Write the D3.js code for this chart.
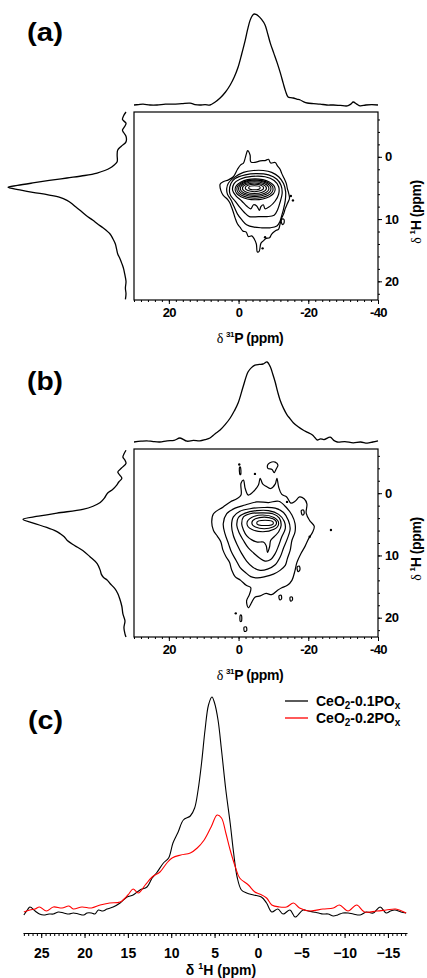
<!DOCTYPE html>
<html lang="en">
<head>
<meta charset="utf-8">
<title>31P-1H HETCOR and 1H spectra</title>
<style>
  body { margin: 0; padding: 0; background: #fff; }
  svg { display: block; }
  .ax .tick text { font-family: "Liberation Sans", Arial, sans-serif; font-weight: bold; font-size: 13px; letter-spacing: -0.6px; fill: #000; }
  .axc .tick text { font-family: "Liberation Sans", Arial, sans-serif; font-weight: bold; font-size: 14px; fill: #000; }
  .tick line { stroke: #000; }
  .axlab { font-family: "Liberation Sans", Arial, sans-serif; font-weight: bold; font-size: 14px; letter-spacing: -0.4px; }
  .delta { font-family: "Liberation Serif", "Times New Roman", serif; font-weight: normal; }
  .sup { font-size: 8px; }
  .plabel { font-family: "Liberation Sans", Arial, sans-serif; font-weight: bold; font-size: 25px; }
  .legend { font-family: "Liberation Sans", Arial, sans-serif; font-weight: bold; font-size: 14px; }
</style>
</head>
<body>
<script src="https://cdn.jsdelivr.net/npm/d3@7"></script>
<script>
// ---------- tick labels ----------
var pTicks = [20, 0, -20, -40];
var hTicks = [0, 10, 20];
var cTicks = [25, 20, 15, 10, 5, 0, -5, -10, -15];

// ---------- panel (a) : projections [ppm, intensity] ----------
var aTopProj = [[30.0,0],[28.7,0.5],[27.4,1],[25.4,0],[23.4,0],[21.0,1],[18.8,1],[16.3,1.5],[13.9,2],[12.5,0.5],[11.1,0],[9.6,0.5],[8.2,0],[6.8,3],[5.3,7.7],[3.8,14],[2.4,22],[1.2,31],[0.1,42],[-0.9,56],[-1.9,71],[-2.6,83],[-3.3,93],[-4.0,98.5],[-4.5,100],[-5.0,99.5],[-5.6,98],[-6.6,94],[-7.6,88],[-8.3,79],[-9.1,68],[-10.1,57],[-11.1,46],[-12.0,35],[-12.8,24],[-13.5,15],[-14.2,8.8],[-15.0,8],[-15.7,7.7],[-16.7,6.5],[-17.7,5.5],[-18.7,3.5],[-19.7,2.2],[-21.5,1.5],[-23.4,1],[-25.3,0],[-27.2,0],[-29.2,-0.5],[-31.2,-1],[-32.2,1],[-32.9,3.3],[-33.9,1],[-34.9,-1],[-36.5,0],[-38.2,0.5],[-40.0,0]];
var aSideProj = [[-7.2,0],[-6.6,2],[-6.0,3],[-5.4,0],[-4.9,1],[-4.3,3],[-3.9,2],[-3.3,0],[-2.4,0],[-1.7,4],[-1.1,7],[-0.3,7.5],[0.8,7.5],[1.3,10],[1.8,13.5],[2.2,18],[2.6,24.5],[3.0,35],[3.4,50],[3.8,65],[4.2,79],[4.6,92],[4.9,100],[5.3,90],[5.7,79],[6.1,66],[6.5,56],[7.0,50],[7.5,46],[8.0,43],[8.6,39],[9.4,34],[10.2,28],[10.8,24],[11.4,19.5],[12.4,13.5],[13.2,11],[14.0,9],[14.8,8],[15.6,7],[16.4,5],[17.2,3.4],[18.0,2],[18.9,1],[20.0,0],[21.1,0.5],[22.0,0],[22.9,0.5]];

// panel (a) contours [P ppm, H ppm]
var aLevel1 = [[-2.6,-1.0],[-3.3,-0.3],[-3.5,0.8],[-4.7,0.9],[-6.2,0.65],[-7.6,0.6],[-8.6,0.4],[-9.2,1.0],[-10.5,0.9],[-11.2,1.5],[-11.9,2.0],[-12.4,2.7],[-13.1,3.5],[-13.7,4.3],[-14.0,5.1],[-14.4,5.9],[-14.6,6.7],[-14.0,7.5],[-13.4,8.3],[-12.9,9.2],[-12.4,9.8],[-11.9,10.8],[-11.5,11.6],[-10.5,11.9],[-9.5,12.4],[-8.9,13.0],[-7.9,13.1],[-7.1,13.5],[-6.4,13.9],[-5.9,15.2],[-5.4,15.3],[-5.1,14.0],[-4.5,13.2],[-3.8,12.7],[-2.8,12.8],[-2.2,12.1],[-1.2,11.9],[-0.4,11.3],[0.3,10.8],[1.0,9.8],[1.5,8.9],[2.0,8.1],[2.6,7.3],[3.4,6.7],[4.4,6.2],[5.1,5.4],[5.3,4.4],[4.4,4.0],[2.9,3.7],[1.5,3.2],[0.3,2.0],[-0.6,1.3],[-1.4,1.0],[-1.9,0.2],[-2.3,-0.6]];
var aLevel2 = [[3.4,5.1],[2.9,4.2],[1.2,3.3],[-1.4,2.5],[-4.3,2.2],[-7.1,2.2],[-9.5,2.5],[-11.5,3.2],[-12.9,4.3],[-13.5,5.6],[-13.4,7.0],[-12.9,8.4],[-12.4,9.4],[-11.9,10.35],[-11.0,11.1],[-9.1,11.4],[-6.7,11.4],[-4.5,11.3],[-2.3,10.9],[-0.9,10.1],[0.3,9.2],[1.3,8.0],[2.2,6.9],[3.2,6.0]];
var aLevel3 = [[2.6,5.6],[2.2,4.3],[1.0,3.5],[-1.9,2.9],[-5.2,2.7],[-8.6,2.9],[-11.0,3.6],[-12.2,4.6],[-12.5,5.9],[-11.9,7.3],[-11.2,8.5],[-10.2,9.4],[-8.1,9.6],[-5.7,9.6],[-3.1,9.6],[-1.6,8.9],[-0.2,8.0],[1.0,7.1],[2.2,6.3]];
var aLevel4 = [[1.7,5.4],[1.3,4.3],[-0.4,3.6],[-3.8,3.15],[-7.6,3.2],[-10.2,3.8],[-11.5,4.8],[-11.5,6.0],[-10.5,7.1],[-8.9,8.0],[-7.6,8.35],[-7.1,7.7],[-6.4,8.0],[-6.0,8.6],[-5.2,7.9],[-4.3,7.7],[-3.5,8.35],[-2.3,7.9],[-0.9,7.1],[0.7,6.3]];
var aLoop = [[-12.3,10.1],[-12.9,10.0],[-13.1,10.5],[-12.7,10.9],[-12.3,10.6]];
// inner rings [P left, P right, H top, H bottom]
var aRings = [[-2.9,-6.2,4.65,5.3],[-1.9,-7.2,4.4,5.6],[-1.1,-8.0,4.2,5.9],[-0.5,-8.7,4.0,6.15],[0.0,-9.3,3.85,6.4],[0.5,-9.9,3.7,6.65],[1.0,-10.5,3.55,6.9]];
var aDots = [[-15.0,6.3],[-15.6,7.0],[-7.6,12.9],[-6.9,14.7]];

// ---------- panel (b) ----------
var bTopProj = [[30.0,0],[28.0,1],[26.3,1.5],[24.5,0.5],[22.6,0],[20.5,1.5],[18.5,2],[16.8,5],[14.8,1],[13.0,2],[11.1,1.5],[9.6,3],[8.2,5],[6.8,10],[5.3,15],[3.8,22],[2.4,30],[1.2,39],[0.1,49],[-1.3,69],[-2.7,87.5],[-3.7,93],[-4.7,96],[-5.9,97],[-7.0,97.5],[-8.2,100],[-9.1,94],[-9.8,85],[-10.5,75],[-11.2,63],[-11.9,52.5],[-12.9,42],[-13.9,34],[-14.8,29],[-15.7,24],[-17.1,19],[-18.5,15],[-19.8,12],[-21.1,9],[-22.0,5],[-22.6,2.5],[-23.5,4],[-24.5,3],[-26.3,6],[-27.3,2],[-28.3,0],[-30.5,0.5],[-32.9,-1],[-35.0,0],[-36.9,-1.5],[-38.5,0],[-40.0,1.5]];
var bSideProj = [[-6.9,0],[-6.3,2],[-5.8,3],[-5.3,1],[-4.8,0],[-4.1,4],[-3.4,8],[-2.9,6],[-2.4,4],[-1.8,7],[-1.3,9],[-0.6,13],[0,18],[0.8,21],[1.5,25],[2.1,32],[2.6,42],[3.2,67],[3.7,85],[4.2,100],[4.8,90],[5.5,77],[6.1,68],[6.5,64],[7.0,60],[7.6,57],[8.4,50],[9.2,42],[10.2,35],[11.3,28],[12.4,25],[13.0,24],[13.5,22],[14.0,18],[14.5,15.5],[15.3,11],[16.1,8],[17.0,6],[18.2,4],[19.4,3],[20.5,1],[21.6,2],[22.6,1],[23.1,0]];

var bLevel1 = [[7.7,4.6],[7.2,3.3],[4.4,2.2],[2.4,1.4],[0.5,0.9],[-0.7,0.3],[-0.7,-1.6],[-1.4,-2.1],[-1.9,-0.75],[-2.8,0.3],[-4.5,-0.4],[-5.7,-1.3],[-6.2,-2.4],[-6.9,-1.5],[-7.9,-1.1],[-9.2,-0.75],[-10.5,-1.45],[-11.0,-2.4],[-11.5,-1.0],[-12.4,0.2],[-13.8,0.6],[-15.0,1.6],[-16.2,1.3],[-17.5,0.6],[-18.8,0.9],[-19.6,1.7],[-19.4,3.2],[-20.4,4.4],[-21.7,5.3],[-21.3,6.2],[-20.1,7.3],[-19.1,8.5],[-17.9,9.7],[-16.7,11.2],[-16.2,12.4],[-15.3,14.0],[-14.0,14.8],[-12.4,15.2],[-11.2,15.6],[-9.5,16.3],[-7.9,16.1],[-6.2,16.5],[-4.7,16.7],[-3.8,17.5],[-2.8,18.4],[-2.3,17.3],[-3.1,16.3],[-3.5,15.2],[-2.2,14.8],[-0.6,14.0],[1.0,13.4],[2.0,12.3],[2.6,11.1],[3.6,10.2],[4.5,9.1],[5.1,7.8],[6.1,6.9],[7.2,6.0]];
var bLevel2 = [[4.4,4.9],[3.4,3.3],[1.0,2.4],[-1.9,1.9],[-5.2,1.4],[-8.6,1.5],[-11.5,1.3],[-13.7,2.3],[-15.3,3.5],[-16.2,4.9],[-16.2,6.2],[-15.3,7.6],[-14.8,9.2],[-14.0,10.5],[-13.4,11.6],[-11.9,12.4],[-10.0,13.0],[-7.6,13.4],[-5.4,13.6],[-3.5,13.4],[-1.9,12.7],[-0.4,11.9],[0.7,10.8],[2.0,9.5],[2.9,8.1],[3.9,6.5]];
var bLevel3 = [[2.0,5.2],[1.5,3.8],[-0.4,2.9],[-3.3,2.5],[-7.1,2.3],[-10.5,2.4],[-12.9,3.1],[-14.3,4.4],[-14.8,5.7],[-14.0,7.3],[-12.9,8.8],[-11.9,10.3],[-10.5,11.5],[-8.3,12.2],[-6.2,12.4],[-4.1,11.9],[-2.3,10.9],[-0.9,9.7],[0.3,8.4],[1.5,6.8]];
var bLevel4 = [[0.5,5.2],[0.05,3.9],[-1.9,3.2],[-5.2,2.8],[-8.6,2.8],[-11.5,3.4],[-13.1,4.5],[-13.4,5.7],[-12.4,7.0],[-11.5,8.4],[-10.5,9.7],[-9.1,10.7],[-7.6,10.9],[-6.0,10.4],[-4.3,9.6],[-2.8,8.8],[-1.4,7.6],[-0.2,6.4]];
var bLevel5 = [[-0.9,4.9],[-1.4,3.8],[-3.3,3.3],[-6.7,3.15],[-9.8,3.3],[-11.7,4.0],[-12.2,5.2],[-11.5,6.2],[-10.2,7.0],[-9.2,7.6],[-8.9,8.6],[-8.3,9.5],[-7.9,8.4],[-7.1,7.85],[-5.4,7.85],[-3.8,7.5],[-2.3,6.8],[-1.4,5.9]];
var bIslands = [
  [[-8.3,-4.5],[-9.0,-4.9],[-10.5,-5.0],[-11.3,-4.5],[-10.8,-3.9],[-10.2,-3.3],[-9.6,-3.8],[-8.4,-4.0]],
  [[-18.0,2.8],[-18.6,2.7],[-18.8,3.3],[-18.3,3.5]],
  [[-16.8,11.9],[-17.4,11.7],[-17.6,12.3],[-17.1,12.6]],
  [[-11.6,16.5],[-12.2,16.4],[-12.3,17.0],[-11.8,17.1]],
  [[-14.8,16.7],[-15.4,16.7],[-15.4,17.2],[-14.9,17.3]],
  [[-1.6,21.5],[-2.2,21.5],[-2.3,22.1],[-1.7,22.2]],
  [[-0.3,-4.2],[-0.5,-4.2],[-0.6,-3.0],[-0.4,-3.0]],
  [[-0.5,19.6],[-0.8,19.6],[-0.8,20.6],[-0.5,20.6]]
];
var bRings = [[-5.2,-10.0,4.35,5.2],[-3.8,-10.9,3.85,5.7],[-2.4,-11.5,3.5,6.2]];
var bDots = [[-4.7,-3.1],[-13.9,1.4],[-20.4,7.0],[-26.5,5.9],[0.8,19.3],[-0.2,-4.6]];

// ---------- panel (c) : 1H spectra [ppm, intensity] ----------
var seriesNames = ["CeO2-0.1POx", "CeO2-0.2POx"];
var cBlack = [[27.0,0],[26.6,5],[26.3,8],[25.7,4],[25.2,1],[24.7,0],[24.1,1],[23.6,1],[23.0,3],[22.4,2],[21.8,1],[21.3,2],[20.7,1],[20.1,0],[19.7,2],[19.2,2],[18.8,1],[18.4,5],[17.9,4],[17.4,6],[16.7,8],[15.9,12],[15.1,18],[14.4,20],[13.6,25],[12.8,28],[12.2,37],[11.7,42],[10.9,52],[10.3,57],[9.8,72],[9.2,83],[8.6,95],[7.8,99],[7.3,107],[6.9,125],[6.5,152],[6.1,185],[5.7,210],[5.3,218],[5.0,212],[4.6,195],[4.2,165],[3.7,125],[3.2,92],[2.8,62],[2.4,38],[1.9,25],[1.3,22],[0.5,20],[-0.4,18],[-1.0,12],[-1.6,3],[-2.3,6],[-2.9,1],[-3.7,5],[-4.3,-2],[-5.2,5],[-5.8,4],[-6.4,3],[-7.0,2],[-7.5,1],[-8.1,1],[-8.7,-1],[-9.2,0],[-9.8,2],[-10.4,2],[-11.0,1],[-11.8,0],[-12.5,3],[-13.3,2],[-14.1,8],[-14.8,2],[-15.3,4],[-15.8,5],[-16.5,3],[-17.1,2]];
var cRed = [[27.0,3],[26.3,5],[25.7,6],[25.2,8],[24.4,4],[23.6,8],[22.6,7],[21.8,9],[21.3,6],[20.3,8],[19.2,7],[18.2,10],[17.1,12],[15.9,13],[15.0,20],[14.4,26],[13.8,22],[13.0,30],[12.2,38],[11.3,43],[10.5,52],[9.9,57],[8.9,60],[7.8,62],[7.0,67],[6.2,75],[5.4,88],[4.7,100],[4.2,97],[3.7,82],[3.2,65],[2.6,48],[2.1,37],[1.1,30],[0.35,23],[-0.2,21],[-1.0,17],[-1.6,10],[-2.5,8],[-3.3,8],[-4.1,12],[-4.8,7],[-6.0,4],[-7.5,6],[-8.7,7],[-9.4,10],[-10.4,4],[-11.4,10],[-12.3,3],[-13.7,4],[-14.8,5],[-15.9,6],[-17.1,2]];

// ---------- drawing ----------
var svg = d3.select("body").append("svg")
  .attr("width", 427)
  .attr("height", 978);

function drawHetcor(p) {
  var g = svg.append("g");
  var x = d3.scaleLinear().domain([30, -40]).range([p.left, p.right]);
  var y = d3.scaleLinear().domain(p.hDomain).range([p.top, p.bottom]);
  var topI = d3.scaleLinear().domain([0, 100]).range([p.topBase, p.topPeak]);
  var sideI = d3.scaleLinear().domain([0, 100]).range([p.sideBase, p.sidePeak]);

  // projections
  g.append("path").datum(p.topProj)
    .attr("d", d3.line().x(d => x(d[0])).y(d => topI(d[1])).curve(d3.curveCatmullRom))
    .attr("fill", "none").attr("stroke", "#000").attr("stroke-width", 1.3);
  g.append("path").datum(p.sideProj)
    .attr("d", d3.line().x(d => sideI(d[1])).y(d => y(d[0])).curve(d3.curveCatmullRom))
    .attr("fill", "none").attr("stroke", "#000").attr("stroke-width", 1.3);

  // contour lines
  var cl = d3.line().x(d => x(d[0])).y(d => y(d[1])).curve(d3.curveCatmullRomClosed);
  g.selectAll(null).data(p.contours).join("path")
    .attr("d", cl)
    .attr("fill", "none").attr("stroke", "#000").attr("stroke-width", 1.2);
  g.selectAll(null).data(p.rings).join("ellipse")
    .attr("cx", d => (x(d[0]) + x(d[1])) / 2)
    .attr("rx", d => Math.abs(x(d[1]) - x(d[0])) / 2)
    .attr("cy", d => (y(d[2]) + y(d[3])) / 2)
    .attr("ry", d => Math.abs(y(d[3]) - y(d[2])) / 2)
    .attr("fill", "none").attr("stroke", "#000").attr("stroke-width", 1.1);
  g.selectAll(null).data(p.dots).join("circle")
    .attr("cx", d => x(d[0])).attr("cy", d => y(d[1])).attr("r", 1.2)
    .attr("fill", "#000");

  // frame
  g.append("rect")
    .attr("x", p.left).attr("y", p.top)
    .attr("width", p.right - p.left).attr("height", p.bottom - p.top)
    .attr("fill", "none").attr("stroke", "#000").attr("stroke-width", 1.2);

  // bottom axis (31P)
  g.append("g").attr("class", "ax").attr("transform", "translate(0," + p.bottom + ")")
    .call(d3.axisBottom(x).tickValues(d3.range(30, -41, -2)).tickSize(2).tickFormat(""))
    .call(a => a.select(".domain").remove());
  g.append("g").attr("class", "ax").attr("transform", "translate(0," + p.bottom + ")")
    .call(d3.axisBottom(x).tickValues(pTicks).tickSize(4).tickPadding(4).tickFormat(d => String(d)))
    .call(a => a.select(".domain").remove());

  // right axis (1H)
  g.append("g").attr("class", "ax").attr("transform", "translate(" + p.right + ",0)")
    .call(d3.axisRight(y).tickValues(d3.range(-6, 23, 2)).tickSize(2).tickFormat(""))
    .call(a => a.select(".domain").remove());
  g.append("g").attr("class", "ax").attr("transform", "translate(" + p.right + ",0)")
    .call(d3.axisRight(y).tickValues(hTicks).tickSize(4).tickPadding(3).tickFormat(d => String(d)))
    .call(a => a.select(".domain").remove());

  // axis titles
  var lx = g.append("text").attr("class", "axlab")
    .attr("x", 250).attr("y", p.bottom + 43).attr("text-anchor", "middle");
  lx.append("tspan").attr("class", "delta").text("δ ");
  lx.append("tspan").attr("class", "sup").attr("dy", -6).text("31");
  lx.append("tspan").attr("dy", 6).text("P (ppm)");

  var ly = g.append("text").attr("class", "axlab")
    .attr("transform", "translate(421," + ((p.top + p.bottom) / 2 + 6) + ") rotate(-90)")
    .attr("text-anchor", "middle");
  ly.append("tspan").attr("class", "delta").text("δ ");
  ly.append("tspan").attr("class", "sup").attr("dy", -6).text("1");
  ly.append("tspan").attr("dy", 6).text("H (ppm)");

  g.append("text").attr("class", "plabel")
    .attr("x", 27).attr("y", p.labelY)
    .attr("textLength", 36).attr("lengthAdjust", "spacingAndGlyphs")
    .text(p.label);
}

drawHetcor({
  label: "(a)", labelY: 41,
  left: 134, right: 378, top: 112, bottom: 300, hDomain: [-7.2, 23],
  topBase: 105, topPeak: 14, sideBase: 126, sidePeak: 8,
  topProj: aTopProj, sideProj: aSideProj,
  contours: [aLevel1, aLevel2, aLevel3, aLevel4, aLoop],
  rings: aRings, dots: aDots
});

drawHetcor({
  label: "(b)", labelY: 390,
  left: 134, right: 378, top: 449, bottom: 637, hDomain: [-7.1, 23.1],
  topBase: 442, topPeak: 362, sideBase: 126, sidePeak: 23,
  topProj: bTopProj, sideProj: bSideProj,
  contours: [bLevel1, bLevel2, bLevel3, bLevel4, bLevel5].concat(bIslands),
  rings: bRings, dots: bDots
});

// panel (c)
var gc = svg.append("g");
var xC = d3.scaleLinear().domain([27.1, -17.2]).range([23, 407]);
var yC = d3.scaleLinear().domain([0, 218]).range([915, 697]);
var lineC = d3.line().x(d => xC(d[0])).y(d => yC(d[1])).curve(d3.curveCatmullRom);

gc.append("path").datum(cBlack).attr("d", lineC)
  .attr("fill", "none").attr("stroke", "#000").attr("stroke-width", 1.1);
gc.append("path").datum(cRed).attr("d", lineC)
  .attr("fill", "none").attr("stroke", "#ff0000").attr("stroke-width", 1.1);

gc.append("g").attr("class", "axc").attr("transform", "translate(0,933)")
  .call(d3.axisBottom(xC).tickValues(d3.range(27, -17.5, -0.5)).tickSize(3).tickFormat(""))
  .call(a => a.select(".domain").remove());
gc.append("g").attr("class", "axc").attr("transform", "translate(0,933)")
  .call(d3.axisBottom(xC).tickValues(cTicks).tickSize(5).tickSizeOuter(0).tickPadding(10))
  .call(a => a.select(".domain").attr("stroke-width", 1.2));

var lc = gc.append("text").attr("class", "axlab").attr("x", 221).attr("y", 975)
  .attr("text-anchor", "middle").style("letter-spacing", "0");
lc.append("tspan").text("δ ");
lc.append("tspan").attr("class", "sup").attr("dy", -6).style("font-size", "9px").text("1");
lc.append("tspan").attr("dy", 6).text("H (ppm)");

// legend
var legColors = ["#000", "#ff0000"];
seriesNames.forEach(function (name, i) {
  var ly = 701 + i * 17;
  gc.append("line").attr("x1", 285).attr("x2", 308).attr("y1", ly).attr("y2", ly)
    .attr("stroke", legColors[i]).attr("stroke-width", 1.3);
  var t = gc.append("text").attr("class", "legend").attr("x", 316).attr("y", ly + 5);
  var m = name.match(/^(CeO)(2)(-0\.\dPO)(x)$/);
  t.append("tspan").text(m[1]);
  t.append("tspan").attr("dy", 3).style("font-size", "10px").text(m[2]);
  t.append("tspan").attr("dy", -3).text(m[3]);
  t.append("tspan").attr("dy", 3).style("font-size", "10px").text(m[4]);
});

gc.append("text").attr("class", "plabel")
  .attr("x", 28).attr("y", 729)
  .attr("textLength", 35).attr("lengthAdjust", "spacingAndGlyphs")
  .text("(c)");
</script>
</body>
</html>
